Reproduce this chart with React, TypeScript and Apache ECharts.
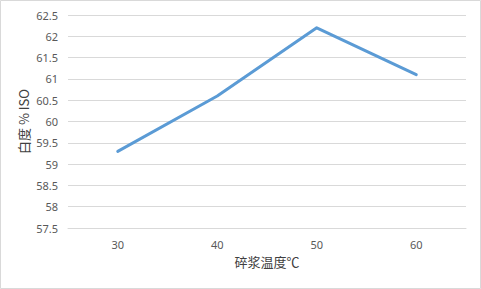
import React, { useEffect, useRef } from "react";
import * as echarts from "echarts";

const temperatures = ["30", "40", "50", "60"];
const brightness = [59.3, 60.6, 62.2, 61.1];
const yMin = 57.5;
const yMax = 62.5;
const yStep = 0.5;

const W = 481;
const H = 289;

export default function App() {
  const ref = useRef<HTMLDivElement>(null);

  useEffect(() => {
    if (!ref.current) return;
    const chart = echarts.init(ref.current, null, { renderer: "svg" });
    chart.setOption({
      animation: false,
      backgroundColor: "#ffffff",
      textStyle: { fontFamily: "'Noto Sans', 'Noto Sans CJK SC', sans-serif" },
      graphic: [
        {
          type: "rect",
          shape: { x: 0.5, y: 0.5, width: W - 1, height: H - 1 },
          style: { fill: "none", stroke: "#d9d9d9", lineWidth: 1 },
          silent: true,
        },
      ],
      grid: { left: 68, right: 15, top: 15, bottom: 61 },
      xAxis: {
        type: "category",
        data: temperatures,
        boundaryGap: true,
        name: "碎浆温度℃",
        nameLocation: "middle",
        nameGap: 27,
        nameMoveOverlap: false,
        nameTextStyle: { color: "#404040", fontSize: 13, fontFamily: "'Noto Sans CJK SC', sans-serif" },
        axisLine: { show: true, lineStyle: { color: "#d9d9d9" } },
        axisTick: { show: false },
        axisLabel: { color: "#595959", fontSize: 11, margin: 11 },
      },
      yAxis: {
        type: "value",
        min: yMin,
        max: yMax,
        interval: yStep,
        name: "白度 % ISO",
        nameLocation: "middle",
        nameGap: 38,
        nameMoveOverlap: false,
        nameRotate: 90,
        nameTextStyle: { color: "#404040", fontSize: 13, fontFamily: "'Noto Sans CJK SC', sans-serif" },
        axisLine: { show: false },
        axisTick: { show: false },
        splitLine: { lineStyle: { color: "#d9d9d9" } },
        axisLabel: { color: "#595959", fontSize: 11, margin: 10 },
      },
      series: [
        {
          type: "line",
          data: brightness,
          symbol: "none",
          lineStyle: { color: "#5b9bd5", width: 3, cap: "round", join: "round" },
        },
      ],
    });
    return () => chart.dispose();
  }, []);

  return (
    <div
      ref={ref}
      style={{ position: "absolute", left: 0, top: 0, width: W, height: H }}
    />
  );
}
